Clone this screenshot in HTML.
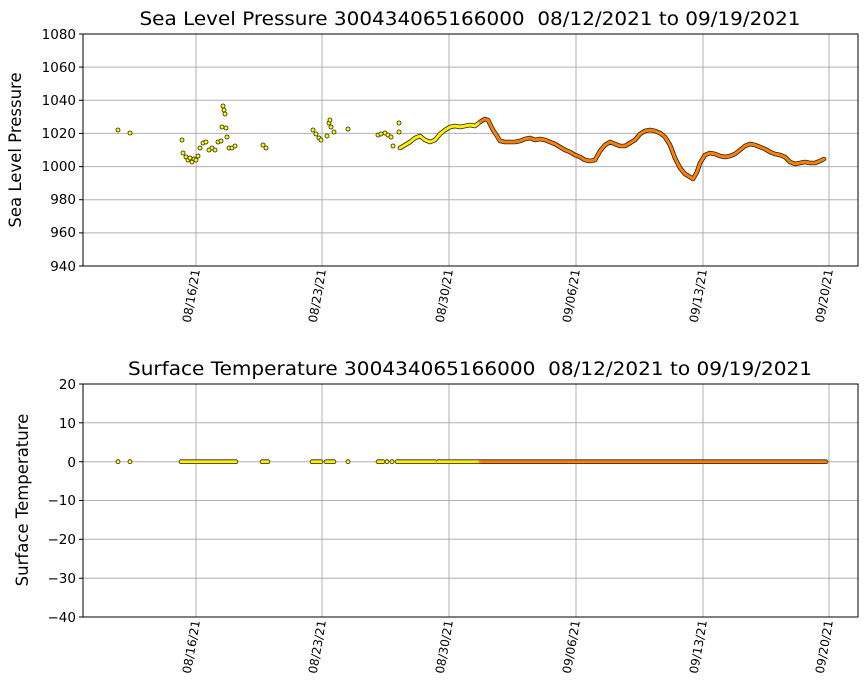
<!DOCTYPE html>
<html><head><style>body{margin:0;background:#fff}svg{display:block;font-family:"DejaVu Sans","Liberation Sans",sans-serif}</style></head><body>
<svg width="867" height="700" xmlns="http://www.w3.org/2000/svg">
<rect width="867" height="700" fill="#fff"/>
<g stroke="#b0b0b0" stroke-width="1">
<line x1="196" y1="34" x2="196" y2="266"/><line x1="322" y1="34" x2="322" y2="266"/><line x1="449" y1="34" x2="449" y2="266"/><line x1="576" y1="34" x2="576" y2="266"/><line x1="703" y1="34" x2="703" y2="266"/><line x1="829" y1="34" x2="829" y2="266"/>
<line x1="83" y1="67.1" x2="858" y2="67.1"/><line x1="83" y1="100.3" x2="858" y2="100.3"/><line x1="83" y1="133.4" x2="858" y2="133.4"/><line x1="83" y1="166.6" x2="858" y2="166.6"/><line x1="83" y1="199.7" x2="858" y2="199.7"/><line x1="83" y1="232.9" x2="858" y2="232.9"/>
<line x1="196" y1="384" x2="196" y2="617"/><line x1="322" y1="384" x2="322" y2="617"/><line x1="449" y1="384" x2="449" y2="617"/><line x1="576" y1="384" x2="576" y2="617"/><line x1="703" y1="384" x2="703" y2="617"/><line x1="829" y1="384" x2="829" y2="617"/>
<line x1="83" y1="422.8" x2="858" y2="422.8"/><line x1="83" y1="461.7" x2="858" y2="461.7"/><line x1="83" y1="500.5" x2="858" y2="500.5"/><line x1="83" y1="539.3" x2="858" y2="539.3"/><line x1="83" y1="578.2" x2="858" y2="578.2"/>
</g>
<g fill="#ffff00" stroke="#222" stroke-width="0.8">
<circle cx="118" cy="130" r="2"/><circle cx="130" cy="133" r="2"/><circle cx="182" cy="140" r="2"/><circle cx="183" cy="153" r="2"/><circle cx="186" cy="157" r="2"/><circle cx="188" cy="160" r="2"/><circle cx="190" cy="158" r="2"/><circle cx="192" cy="162" r="2"/><circle cx="194" cy="159" r="2"/><circle cx="196" cy="160" r="2"/><circle cx="198" cy="156" r="2"/><circle cx="200" cy="148" r="2"/><circle cx="203" cy="143" r="2"/><circle cx="206" cy="142" r="2"/><circle cx="209" cy="150" r="2"/><circle cx="212" cy="148" r="2"/><circle cx="215" cy="150" r="2"/><circle cx="218" cy="142" r="2"/><circle cx="221" cy="141" r="2"/><circle cx="223" cy="106" r="2"/><circle cx="224" cy="110" r="2"/><circle cx="225" cy="114" r="2"/><circle cx="222" cy="127" r="2"/><circle cx="226" cy="128" r="2"/><circle cx="227" cy="137" r="2"/><circle cx="229" cy="148" r="2"/><circle cx="232" cy="148" r="2"/><circle cx="235" cy="146" r="2"/><circle cx="263" cy="145" r="2"/><circle cx="266" cy="148" r="2"/><circle cx="313" cy="130" r="2"/><circle cx="316" cy="134" r="2"/><circle cx="319" cy="138" r="2"/><circle cx="321" cy="140" r="2"/><circle cx="327" cy="136" r="2"/><circle cx="329" cy="123" r="2"/><circle cx="330" cy="120" r="2"/><circle cx="331" cy="127" r="2"/><circle cx="334" cy="132" r="2"/><circle cx="348" cy="129" r="2"/><circle cx="378" cy="135" r="2"/><circle cx="381" cy="134" r="2"/><circle cx="385" cy="133" r="2"/><circle cx="388" cy="135" r="2"/><circle cx="391" cy="137" r="2"/><circle cx="393" cy="146" r="2"/><circle cx="399" cy="132" r="2"/><circle cx="399" cy="123" r="2"/>
</g>
<g fill="none" stroke-linecap="round" stroke-linejoin="round">
<polyline stroke="#222" stroke-width="4.6" points="400,148 405,145 410,142 415,138 420,136 425,140 430,142 435,140 440,134 445,130 450,127 455,126 460,127 465,126 470,125 475,126 480,122 485,119 488,120 490,124 493,130 497,136 500,141 505,142 515,142 520,141 525,139 530,138 535,140 540,139 545,140 550,142 555,144 560,147 565,150 570,152 575,155 580,157 585,160 590,161 595,160 600,151 605,145 610,142 615,144 620,146 625,146 630,143 635,140 640,134 645,131 650,130 655,131 660,133 665,137 670,145 675,158 680,168 685,174 690,177 693,179 697,172 700,163 705,155 710,153 715,154 720,156 725,157 730,156 735,154 740,150 745,146 750,144 755,145 760,147 765,149 770,152 775,154 780,155 785,157 790,162 795,164 800,163 805,162 810,163 815,163 820,161 824,159"/>
<polyline stroke="#ffee00" stroke-width="3" points="400,148 405,145 410,142 415,138 420,136 425,140 430,142 435,140 440,134 445,130 450,127 455,126 460,127 465,126 470,125 475,126 480,122"/>
<polyline stroke="#ff7f00" stroke-width="3" points="480,122 485,119 488,120 490,124 493,130 497,136 500,141 505,142 515,142 520,141 525,139 530,138 535,140 540,139 545,140 550,142 555,144 560,147 565,150 570,152 575,155 580,157 585,160 590,161 595,160 600,151 605,145 610,142 615,144 620,146 625,146 630,143 635,140 640,134 645,131 650,130 655,131 660,133 665,137 670,145 675,158 680,168 685,174 690,177 693,179 697,172 700,163 705,155 710,153 715,154 720,156 725,157 730,156 735,154 740,150 745,146 750,144 755,145 760,147 765,149 770,152 775,154 780,155 785,157 790,162 795,164 800,163 805,162 810,163 815,163 820,161 824,159"/>
</g>
<g fill="none" stroke-linecap="round">
<g stroke="#222" stroke-width="4.6">
<line x1="181" y1="461.7" x2="236" y2="461.7"/><line x1="262" y1="461.7" x2="268" y2="461.7"/><line x1="312" y1="461.7" x2="321" y2="461.7"/><line x1="326" y1="461.7" x2="334" y2="461.7"/><line x1="378" y1="461.7" x2="383" y2="461.7"/><line x1="397" y1="461.7" x2="435" y2="461.7"/><line x1="438" y1="461.7" x2="826" y2="461.7"/>
</g>
<g stroke="#ffee00" stroke-width="3">
<line x1="181" y1="461.7" x2="236" y2="461.7"/><line x1="262" y1="461.7" x2="268" y2="461.7"/><line x1="312" y1="461.7" x2="321" y2="461.7"/><line x1="326" y1="461.7" x2="334" y2="461.7"/><line x1="378" y1="461.7" x2="383" y2="461.7"/><line x1="397" y1="461.7" x2="435" y2="461.7"/><line x1="438" y1="461.7" x2="480" y2="461.7"/>
</g>
<line stroke="#ff7f00" stroke-width="3" x1="480" y1="461.7" x2="826" y2="461.7"/>
</g>
<g fill="#ffff00" stroke="#222" stroke-width="0.8"><circle cx="118" cy="461.7" r="2"/><circle cx="130" cy="461.7" r="2"/><circle cx="348" cy="461.7" r="2"/><circle cx="387" cy="461.7" r="2"/><circle cx="392" cy="461.7" r="2"/></g>
<rect x="83" y="34" width="775" height="232" fill="none" stroke="#000" stroke-width="1"/>
<rect x="83" y="384" width="775" height="233" fill="none" stroke="#000" stroke-width="1"/>
<g stroke="#000"><line x1="79" y1="34" x2="83" y2="34"/><line x1="79" y1="67.1" x2="83" y2="67.1"/><line x1="79" y1="100.3" x2="83" y2="100.3"/><line x1="79" y1="133.4" x2="83" y2="133.4"/><line x1="79" y1="166.6" x2="83" y2="166.6"/><line x1="79" y1="199.7" x2="83" y2="199.7"/><line x1="79" y1="232.9" x2="83" y2="232.9"/><line x1="79" y1="266" x2="83" y2="266"/>
<line x1="79" y1="384" x2="83" y2="384"/><line x1="79" y1="422.8" x2="83" y2="422.8"/><line x1="79" y1="461.7" x2="83" y2="461.7"/><line x1="79" y1="500.5" x2="83" y2="500.5"/><line x1="79" y1="539.3" x2="83" y2="539.3"/><line x1="79" y1="578.2" x2="83" y2="578.2"/><line x1="79" y1="617" x2="83" y2="617"/></g>
<g font-size="13.5" text-anchor="end" fill="#000">
<text x="76" y="39">1080</text><text x="76" y="72">1060</text><text x="76" y="105">1040</text><text x="76" y="138">1020</text><text x="76" y="171">1000</text><text x="76" y="204">980</text><text x="76" y="237">960</text><text x="76" y="271">940</text>
<text x="76" y="389">20</text><text x="76" y="428">10</text><text x="76" y="467">0</text><text x="76" y="505">−10</text><text x="76" y="544">−20</text><text x="76" y="583">−30</text><text x="76" y="622">−40</text>
</g>
<g font-size="12" text-anchor="end" fill="#000">
<text transform="translate(200,270) rotate(-80)">08/16/21</text><text transform="translate(326,270) rotate(-80)">08/23/21</text><text transform="translate(453,270) rotate(-80)">08/30/21</text><text transform="translate(580,270) rotate(-80)">09/06/21</text><text transform="translate(707,270) rotate(-80)">09/13/21</text><text transform="translate(833,270) rotate(-80)">09/20/21</text>
<text transform="translate(200,621) rotate(-80)">08/16/21</text><text transform="translate(326,621) rotate(-80)">08/23/21</text><text transform="translate(453,621) rotate(-80)">08/30/21</text><text transform="translate(580,621) rotate(-80)">09/06/21</text><text transform="translate(707,621) rotate(-80)">09/13/21</text><text transform="translate(833,621) rotate(-80)">09/20/21</text>
</g>
<g font-size="16.5" text-anchor="middle" fill="#000">
<text transform="translate(21,150) rotate(-90)">Sea Level Pressure</text>
<text transform="translate(28,500) rotate(-90)">Surface Temperature</text>
</g>
<g font-size="19" text-anchor="middle" fill="#000">
<text x="470" y="25" textLength="661" lengthAdjust="spacingAndGlyphs">Sea Level Pressure 300434065166000&#160; 08/12/2021 to 09/19/2021</text>
<text x="470" y="375" textLength="684" lengthAdjust="spacingAndGlyphs">Surface Temperature 300434065166000&#160; 08/12/2021 to 09/19/2021</text>
</g>
</svg>
</body></html>
